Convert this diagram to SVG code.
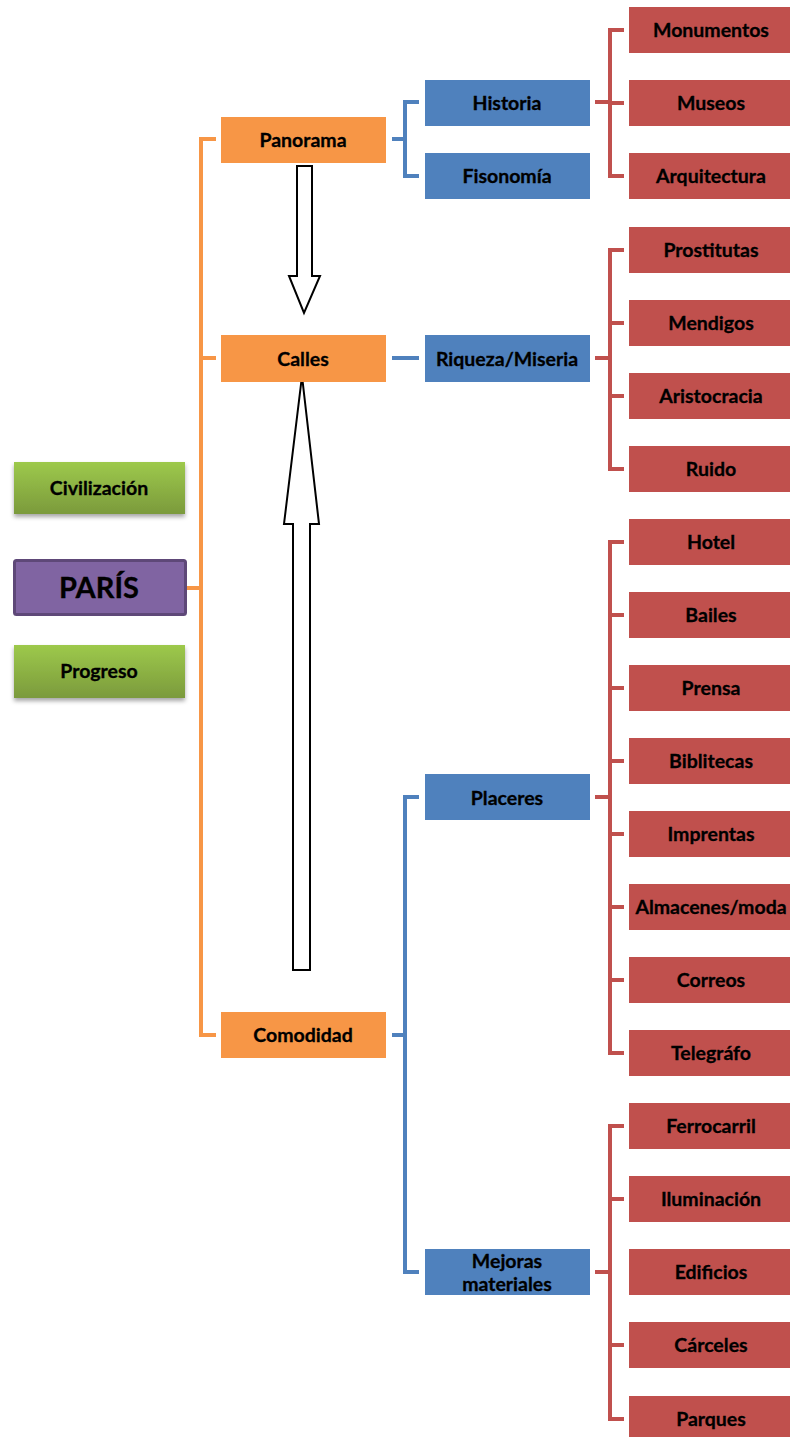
<svg xmlns="http://www.w3.org/2000/svg" width="790" height="1437" viewBox="0 0 790 1437">
<defs>
<linearGradient id="gg" x1="0" y1="0" x2="0" y2="1">
<stop offset="0" stop-color="#9DC94B"/>
<stop offset="1" stop-color="#7B9A3C"/>
</linearGradient>
<filter id="sh" x="-10%" y="-20%" width="120%" height="150%">
<feDropShadow dx="0" dy="3" stdDeviation="2" flood-color="#000" flood-opacity="0.35"/>
</filter>
</defs>
<style>
text{font-family:Lato,"Liberation Sans",sans-serif;font-weight:bold;font-size:19.5px;fill:#000;text-anchor:middle;stroke:#000;stroke-width:0.3}
.o{fill:#F79646}
.b{fill:#4F81BD}
.r{fill:#C0504D}
.g{fill:url(#gg);filter:url(#sh)}
.lo{stroke:#F79646;stroke-width:4;fill:none}
.lb{stroke:#4F81BD;stroke-width:4;fill:none}
.lr{stroke:#C0504D;stroke-width:4;fill:none}
.ar{fill:#fff;stroke:#000;stroke-width:2}
</style>
<g id="connectors">
<path class="lo" d="M187 588H201M216 139H201V1035H216M201 358H216"/>
<path class="lb" d="M392 139H405M419 102H405V176H419"/>
<path class="lb" d="M392 358H419"/>
<path class="lb" d="M392 1035H405M419 797H405V1272H419"/>
<path class="lr" d="M595 102H610M624 30H610V176H624M610 103H624"/>
<path class="lr" d="M595 358H610M624 250H610V469H624M610 323H624M610 396H624"/>
<path class="lr" d="M595 797H610M624 542H610V1053H624M610 615H624M610 688H624M610 761H624M610 834H624M610 907H624M610 980H624"/>
<path class="lr" d="M595 1272H610M624 1126H610V1419H624M610 1199H624M610 1345H624"/>
<path class="ar" d="M297 166H312V276H320L304 313L289 276H297Z"/>
<path class="ar" d="M293 970H310V524H319L302 376L284 524H293Z"/>
</g>
<g id="civilizacion"><rect class="g" x="14" y="462" width="171" height="52"/><text x="99" y="495">Civilización</text></g>
<g id="paris"><rect x="14.5" y="560.5" width="171" height="54" fill="#8064A2" stroke="#5E4878" stroke-width="3" rx="2"/><text x="99" y="598" style="font-size:29px">PARÍS</text></g>
<g id="progreso"><rect class="g" x="14" y="645" width="171" height="53"/><text x="99" y="678">Progreso</text></g>
<g id="panorama"><rect class="o" x="221" y="117" width="165" height="46"/><text x="303" y="146.5">Panorama</text></g>
<g id="calles"><rect class="o" x="221" y="335" width="165" height="47"/><text x="303" y="365.5">Calles</text></g>
<g id="comodidad"><rect class="o" x="221" y="1012" width="165" height="46"/><text x="303" y="1041.5">Comodidad</text></g>
<g id="historia"><rect class="b" x="425" y="80" width="165" height="46"/><text x="507" y="109.5">Historia</text></g>
<g id="fisonomia"><rect class="b" x="425" y="153" width="165" height="46"/><text x="507" y="182.5">Fisonomía</text></g>
<g id="riqueza"><rect class="b" x="425" y="335" width="165" height="47"/><text x="507" y="365.5">Riqueza/Miseria</text></g>
<g id="placeres"><rect class="b" x="425" y="774" width="165" height="46"/><text x="507" y="804.5">Placeres</text></g>
<g id="mejoras"><rect class="b" x="425" y="1249" width="165" height="46"/><text x="507" y="1268">Mejoras</text><text x="507" y="1291">materiales</text></g>
<g id="monumentos"><rect class="r" x="629" y="7" width="165" height="46"/><text x="711" y="36.5">Monumentos</text></g>
<g id="museos"><rect class="r" x="629" y="80" width="165" height="46"/><text x="711" y="109.5">Museos</text></g>
<g id="arquitectura"><rect class="r" x="629" y="153" width="165" height="46"/><text x="711" y="182.5">Arquitectura</text></g>
<g id="prostitutas"><rect class="r" x="629" y="227" width="165" height="46"/><text x="711" y="256.5">Prostitutas</text></g>
<g id="mendigos"><rect class="r" x="629" y="300" width="165" height="46"/><text x="711" y="329.5">Mendigos</text></g>
<g id="aristocracia"><rect class="r" x="629" y="373" width="165" height="46"/><text x="711" y="402.5">Aristocracia</text></g>
<g id="ruido"><rect class="r" x="629" y="446" width="165" height="46"/><text x="711" y="475.5">Ruido</text></g>
<g id="hotel"><rect class="r" x="629" y="519" width="165" height="46"/><text x="711" y="548.5">Hotel</text></g>
<g id="bailes"><rect class="r" x="629" y="592" width="165" height="46"/><text x="711" y="621.5">Bailes</text></g>
<g id="prensa"><rect class="r" x="629" y="665" width="165" height="46"/><text x="711" y="694.5">Prensa</text></g>
<g id="biblitecas"><rect class="r" x="629" y="738" width="165" height="46"/><text x="711" y="767.5">Biblitecas</text></g>
<g id="imprentas"><rect class="r" x="629" y="811" width="165" height="46"/><text x="711" y="840.5">Imprentas</text></g>
<g id="almacenes"><rect class="r" x="629" y="884" width="165" height="46"/><text x="711" y="913.5">Almacenes/moda</text></g>
<g id="correos"><rect class="r" x="629" y="957" width="165" height="46"/><text x="711" y="986.5">Correos</text></g>
<g id="telegrafo"><rect class="r" x="629" y="1030" width="165" height="46"/><text x="711" y="1059.5">Telegráfo</text></g>
<g id="ferrocarril"><rect class="r" x="629" y="1103" width="165" height="46"/><text x="711" y="1132.5">Ferrocarril</text></g>
<g id="iluminacion"><rect class="r" x="629" y="1176" width="165" height="46"/><text x="711" y="1205.5">Iluminación</text></g>
<g id="edificios"><rect class="r" x="629" y="1249" width="165" height="46"/><text x="711" y="1278.5">Edificios</text></g>
<g id="carceles"><rect class="r" x="629" y="1322" width="165" height="46"/><text x="711" y="1351.5">Cárceles</text></g>
<g id="parques"><rect class="r" x="629" y="1396" width="165" height="46"/><text x="711" y="1425.5">Parques</text></g>
</svg>
